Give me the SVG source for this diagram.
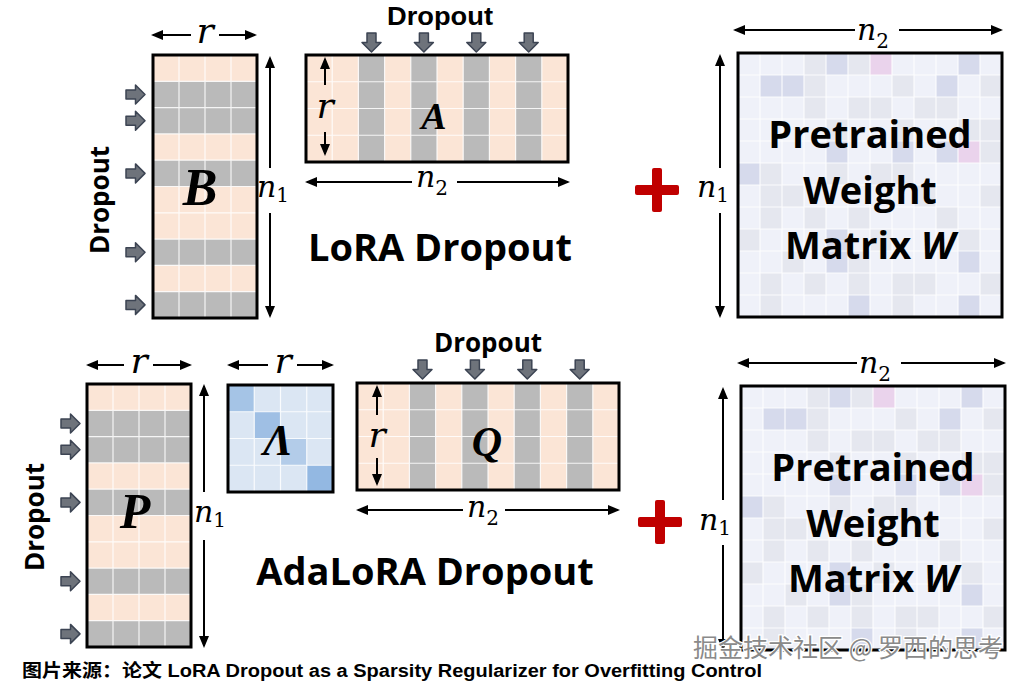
<svg xmlns="http://www.w3.org/2000/svg" xmlns:xlink="http://www.w3.org/1999/xlink" width="1023" height="683" viewBox="0 0 1023 683">
<style>
.lbl{font-family:"Open Sans","Liberation Sans",sans-serif;font-weight:700;fill:#000}
.lbl2{font-family:"Liberation Sans",sans-serif;font-weight:700;fill:#000}
.math{font-family:"DejaVu Serif","Liberation Serif",serif;font-style:italic;fill:#000}
.sub{font-style:normal}
.mlab{font-family:"Liberation Serif",serif;font-style:italic;font-weight:700;fill:#000}
.dim{stroke:#000;stroke-width:2;fill:none;marker-end:url(#ah)}
.c1{fill:#e5e7ef}.c2{fill:#d6daec}.c3{fill:#ead3ec}
.grid{stroke:#fff;stroke-width:1.2;fill:none;opacity:0.85}
.frame{fill:none;stroke:#000;stroke-width:3}
.blk{fill:#6e737b;stroke:#3c4453;stroke-width:1.5;stroke-linejoin:round}
.plus{fill:#c00000}
</style>
<defs>
<marker id="ah" viewBox="0 0 12 10" refX="10" refY="5" markerWidth="12" markerHeight="10" markerUnits="userSpaceOnUse" orient="auto"><path d="M0,0 L12,5 L0,10 Z" fill="#000"/></marker>
<path id="rarrow" class="blk" d="M0,-4.5 H9.5 V-9.5 L19,0 L9.5,9.5 V4.5 H0 Z"/>
<g id="rowMat">
<rect width="104" height="263" fill="#fbe5d6"/>
<rect y="26.3" width="104" height="52.6" fill="#bababa"/>
<rect y="105.2" width="104" height="26.3" fill="#bababa"/>
<rect y="184.1" width="104" height="26.3" fill="#bababa"/>
<rect y="236.7" width="104" height="26.3" fill="#bababa"/>
<path class="grid" d="M26 0V263M52 0V263M78 0V263M0 26.3H104M0 52.6H104M0 78.9H104M0 105.2H104M0 131.5H104M0 157.8H104M0 184.1H104M0 210.4H104M0 236.7H104"/>
<rect class="frame" width="104" height="263"/>
</g>
<g id="colMat">
<rect width="262" height="107" fill="#fbe5d6"/>
<rect x="52.4" width="26.2" height="107" fill="#bababa"/>
<rect x="104.8" width="26.2" height="107" fill="#bababa"/>
<rect x="157.2" width="26.2" height="107" fill="#bababa"/>
<rect x="209.6" width="26.2" height="107" fill="#bababa"/>
<path class="grid" d="M26.2 0V107M52.4 0V107M78.6 0V107M104.8 0V107M131 0V107M157.2 0V107M183.4 0V107M209.6 0V107M235.8 0V107M0 26.75H262M0 53.5H262M0 80.25H262"/>
<rect class="frame" width="262" height="107"/>
</g>
<g id="wMat">
<rect width="264" height="264" fill="#eff1f9"/>
<rect class="c1" x="66" y="0" width="22" height="22"/><rect class="c2" x="88" y="0" width="22" height="22"/><rect class="c1" x="110" y="0" width="22" height="22"/><rect class="c3" x="132" y="0" width="22" height="22"/><rect class="c2" x="220" y="0" width="22" height="22"/>
<rect class="c2" x="22" y="22" width="22" height="22"/><rect class="c2" x="44" y="22" width="22" height="22"/><rect class="c1" x="66" y="22" width="22" height="22"/><rect class="c1" x="154" y="22" width="22" height="22"/><rect class="c2" x="198" y="22" width="22" height="22"/><rect class="c1" x="242" y="22" width="22" height="22"/>
<rect class="c1" x="66" y="44" width="22" height="22"/><rect class="c1" x="110" y="44" width="22" height="22"/><rect class="c1" x="132" y="44" width="22" height="22"/><rect class="c1" x="176" y="44" width="22" height="22"/><rect class="c1" x="198" y="44" width="22" height="22"/>
<rect class="c1" x="88" y="66" width="22" height="22"/><rect class="c1" x="154" y="66" width="22" height="22"/><rect class="c1" x="220" y="66" width="22" height="22"/><rect class="c1" x="242" y="66" width="22" height="22"/>
<rect class="c2" x="88" y="88" width="22" height="22"/><rect class="c2" x="154" y="88" width="22" height="22"/><rect class="c2" x="198" y="88" width="22" height="22"/><rect class="c3" x="220" y="88" width="22" height="22"/><rect class="c1" x="242" y="88" width="22" height="22"/>
<rect class="c2" x="0" y="110" width="22" height="22"/><rect class="c1" x="22" y="110" width="22" height="22"/><rect class="c1" x="88" y="110" width="22" height="22"/><rect class="c1" x="132" y="110" width="22" height="22"/><rect class="c1" x="154" y="110" width="22" height="22"/>
<rect class="c1" x="22" y="132" width="22" height="22"/><rect class="c1" x="44" y="132" width="22" height="22"/><rect class="c1" x="176" y="132" width="22" height="22"/><rect class="c1" x="242" y="132" width="22" height="22"/>
<rect class="c1" x="22" y="154" width="22" height="22"/><rect class="c1" x="66" y="154" width="22" height="22"/><rect class="c1" x="110" y="154" width="22" height="22"/><rect class="c1" x="198" y="154" width="22" height="22"/>
<rect class="c1" x="0" y="176" width="22" height="22"/><rect class="c2" x="88" y="176" width="22" height="22"/><rect class="c1" x="132" y="176" width="22" height="22"/><rect class="c1" x="220" y="176" width="22" height="22"/>
<rect class="c1" x="44" y="198" width="22" height="22"/><rect class="c2" x="88" y="198" width="22" height="22"/><rect class="c1" x="110" y="198" width="22" height="22"/><rect class="c2" x="220" y="198" width="22" height="22"/>
<rect class="c1" x="22" y="220" width="22" height="22"/><rect class="c1" x="66" y="220" width="22" height="22"/><rect class="c1" x="110" y="220" width="22" height="22"/><rect class="c1" x="154" y="220" width="22" height="22"/><rect class="c1" x="176" y="220" width="22" height="22"/><rect class="c1" x="242" y="220" width="22" height="22"/>
<rect class="c1" x="22" y="242" width="22" height="22"/><rect class="c2" x="110" y="242" width="22" height="22"/><rect class="c1" x="154" y="242" width="22" height="22"/><rect class="c2" x="220" y="242" width="22" height="22"/>
<path class="grid" d="M22 0V264M44 0V264M66 0V264M88 0V264M110 0V264M132 0V264M154 0V264M176 0V264M198 0V264M220 0V264M242 0V264M0 22H264M0 44H264M0 66H264M0 88H264M0 110H264M0 132H264M0 154H264M0 176H264M0 198H264M0 220H264M0 242H264"/>
<rect class="frame" width="264" height="264"/>
</g>
</defs>
<rect width="1023" height="683" fill="#fff"/>

<g id="matrix-B">
<use href="#rowMat" x="153" y="55"/>
<text class="mlab" x="200" y="205" font-size="52" text-anchor="middle">B</text>
</g>
<g id="dropout-B">
<text class="lbl" font-size="26" text-anchor="middle" transform="translate(109,200) rotate(-90)">Dropout</text>
<use href="#rarrow" x="126" y="94.5"/><use href="#rarrow" x="126" y="120.8"/><use href="#rarrow" x="126" y="173.4"/><use href="#rarrow" x="126" y="252.3"/><use href="#rarrow" x="126" y="304.9"/>
</g>
<g id="matrix-A">
<use href="#colMat" x="306" y="55"/>
<text class="mlab" x="434" y="129" font-size="38" text-anchor="middle">A</text>
</g>
<g id="dropout-A">
<text class="lbl2" x="387" y="25" font-size="26" textLength="106" lengthAdjust="spacingAndGlyphs">Dropout</text>
<use href="#rarrow" transform="translate(371.5,33) rotate(90)"/><use href="#rarrow" transform="translate(423.9,33) rotate(90)"/><use href="#rarrow" transform="translate(476.3,33) rotate(90)"/><use href="#rarrow" transform="translate(528.7,33) rotate(90)"/>
</g>
<g id="title-lora"><text class="lbl" x="440" y="261" font-size="38" text-anchor="middle">LoRA Dropout</text></g>
<g id="plus-top"><rect class="plus" x="635" y="185" width="44" height="10" rx="2"/><rect class="plus" x="652" y="168" width="10" height="44" rx="2"/></g>
<g id="matrix-W-top">
<use href="#wMat" x="738" y="53"/>
<text class="lbl" x="870" y="148" font-size="38" text-anchor="middle">Pretrained</text>
<text class="lbl" x="870" y="204" font-size="38" text-anchor="middle">Weight</text>
<text class="lbl" x="870" y="259" font-size="38" text-anchor="middle">Matrix <tspan font-style="italic">W</tspan></text>
</g>

<g id="matrix-P">
<use href="#rowMat" x="87" y="384"/>
<text class="mlab" x="135" y="528" font-size="50" text-anchor="middle">P</text>
</g>
<g id="dropout-P">
<text class="lbl" font-size="26" text-anchor="middle" transform="translate(44,517) rotate(-90)">Dropout</text>
<use href="#rarrow" x="61" y="423.5"/><use href="#rarrow" x="61" y="449.8"/><use href="#rarrow" x="61" y="502.4"/><use href="#rarrow" x="61" y="581.3"/><use href="#rarrow" x="61" y="633.9"/>
</g>
<g id="matrix-Lambda">
<rect x="228" y="385" width="105" height="107" fill="#dbe6f3"/>
<rect x="228" y="385" width="26.25" height="26.75" fill="#a5c4e6"/>
<rect x="254.25" y="411.75" width="26.25" height="26.75" fill="#9fbfe4"/>
<rect x="280.5" y="438.5" width="26.25" height="26.75" fill="#b3cce9"/>
<rect x="306.75" y="465.25" width="26.25" height="26.75" fill="#93b8e2"/>
<path class="grid" d="M254.25 385V492M280.5 385V492M306.75 385V492M228 411.75H333M228 438.5H333M228 465.25H333"/>
<rect class="frame" x="228" y="385" width="105" height="107"/>
<text class="mlab" x="278" y="455" font-size="44" text-anchor="middle">Λ</text>
</g>
<g id="matrix-Q">
<use href="#colMat" x="357" y="383"/>
<text class="mlab" x="487" y="456" font-size="42" text-anchor="middle">Q</text>
</g>
<g id="dropout-Q">
<text class="lbl" x="488" y="352" font-size="26" text-anchor="middle">Dropout</text>
<use href="#rarrow" transform="translate(422.5,360) rotate(90)"/><use href="#rarrow" transform="translate(474.9,360) rotate(90)"/><use href="#rarrow" transform="translate(527.3,360) rotate(90)"/><use href="#rarrow" transform="translate(579.7,360) rotate(90)"/>
</g>
<g id="title-adalora"><text class="lbl" x="425" y="585" font-size="38" text-anchor="middle">AdaLoRA Dropout</text></g>
<g id="plus-bottom"><rect class="plus" x="638" y="517" width="44" height="10" rx="2"/><rect class="plus" x="655" y="500" width="10" height="44" rx="2"/></g>
<g id="matrix-W-bottom">
<use href="#wMat" x="741" y="386"/>
<text class="lbl" x="873" y="481" font-size="38" text-anchor="middle">Pretrained</text>
<text class="lbl" x="873" y="537" font-size="38" text-anchor="middle">Weight</text>
<text class="lbl" x="873" y="592" font-size="38" text-anchor="middle">Matrix <tspan font-style="italic">W</tspan></text>
</g>

<g id="connectors">
<line class="dim" x1="191" y1="35" x2="153" y2="35"/><line class="dim" x1="219" y1="35" x2="255" y2="35"/>
<line class="dim" x1="270" y1="168" x2="270" y2="58"/><line class="dim" x1="270" y1="213" x2="270" y2="316"/>
<line class="dim" x1="325" y1="85" x2="325" y2="59"/><line class="dim" x1="325" y1="132" x2="325" y2="154"/>
<line class="dim" x1="412" y1="182" x2="307" y2="182"/><line class="dim" x1="457" y1="182" x2="568" y2="182"/>
<line class="dim" x1="855" y1="30" x2="735" y2="30"/><line class="dim" x1="899" y1="30" x2="1001" y2="30"/>
<line class="dim" x1="720" y1="168" x2="720" y2="56"/><line class="dim" x1="720" y1="213" x2="720" y2="316"/>
<line class="dim" x1="124" y1="365" x2="88" y2="365"/><line class="dim" x1="153" y1="365" x2="190" y2="365"/>
<line class="dim" x1="268" y1="365" x2="229" y2="365"/><line class="dim" x1="297" y1="365" x2="332" y2="365"/>
<line class="dim" x1="204" y1="492" x2="204" y2="386"/><line class="dim" x1="204" y1="540" x2="204" y2="646"/>
<line class="dim" x1="377" y1="415" x2="377" y2="387"/><line class="dim" x1="377" y1="458" x2="377" y2="484"/>
<line class="dim" x1="463" y1="510" x2="358" y2="510"/><line class="dim" x1="505" y1="510" x2="618" y2="510"/>
<line class="dim" x1="857" y1="363" x2="739" y2="363"/><line class="dim" x1="901" y1="363" x2="1004" y2="363"/>
<line class="dim" x1="723" y1="500" x2="723" y2="389"/><line class="dim" x1="723" y1="545" x2="723" y2="649"/>
</g>

<g id="dim-labels">
<text class="math" x="205" y="43" font-size="36" text-anchor="middle">r</text>
<text class="math" x="257" y="197" font-size="30">n<tspan class="sub" font-size="20" dy="5">1</tspan></text>
<text class="math" x="325" y="118" font-size="36" text-anchor="middle">r</text>
<text class="math" x="416" y="187" font-size="30">n<tspan class="sub" font-size="20" dy="8">2</tspan></text>
<text class="math" x="857" y="40" font-size="30">n<tspan class="sub" font-size="20" dy="8">2</tspan></text>
<text class="math" x="697" y="197" font-size="30">n<tspan class="sub" font-size="20" dy="5">1</tspan></text>
<text class="math" x="139" y="373" font-size="36" text-anchor="middle">r</text>
<text class="math" x="283" y="373" font-size="36" text-anchor="middle">r</text>
<text class="math" x="194" y="522" font-size="30">n<tspan class="sub" font-size="20" dy="5">1</tspan></text>
<text class="math" x="377" y="447" font-size="36" text-anchor="middle">r</text>
<text class="math" x="467" y="517" font-size="30">n<tspan class="sub" font-size="20" dy="8">2</tspan></text>
<text class="math" x="859" y="373" font-size="30">n<tspan class="sub" font-size="20" dy="8">2</tspan></text>
<text class="math" x="699" y="530" font-size="30">n<tspan class="sub" font-size="20" dy="5">1</tspan></text>
</g>

<g id="watermark"><text x="693" y="657" font-size="25" textLength="310" lengthAdjust="spacingAndGlyphs" font-family="'Noto Sans CJK SC','Liberation Sans',sans-serif" fill="#8a8a8a" stroke="#fff" stroke-width="2.5" paint-order="stroke">掘金技术社区 @ 罗西的思考</text></g>
<g id="caption"><text x="22" y="677" font-size="18" font-weight="700" textLength="740" lengthAdjust="spacingAndGlyphs" font-family="'Liberation Sans','Noto Sans CJK SC',sans-serif" fill="#000">图片来源：论文 LoRA Dropout as a Sparsity Regularizer for Overfitting Control</text></g>
</svg>
